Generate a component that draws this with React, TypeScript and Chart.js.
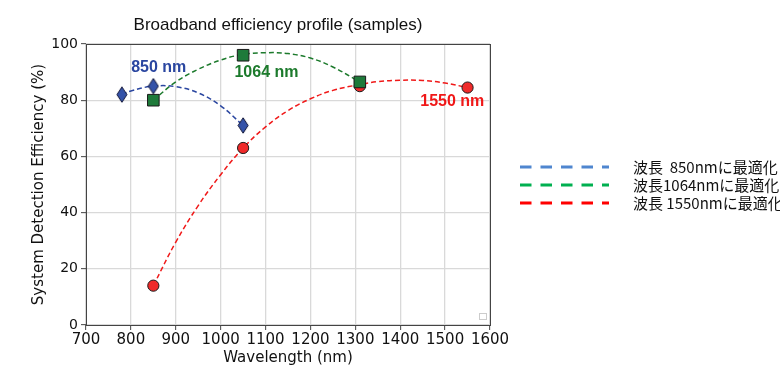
import React, { useEffect, useRef } from "react";
import { Chart, registerables } from "chart.js";

Chart.register(...registerables);

// Measured samples (markers)
const blueX = [780, 850, 1050];
const blueY = [82, 85, 71];
const greenX = [850, 1050, 1310];
const greenY = [80, 96, 86.5];
const redX = [850, 1050, 1310, 1550];
const redY = [14, 63, 85, 84.5];

// Dashed guide curves
const blueCurveX = [780, 800, 850, 900, 950, 1000, 1050];
const blueCurveY = [82, 83.3, 85, 84.8, 82.6, 78, 71];
const greenCurveX = [850, 900, 950, 1000, 1050, 1100, 1150, 1200, 1250, 1310];
const greenCurveY = [80, 86.5, 91, 94.3, 96.3, 96.9, 96.6, 95, 91.8, 86.5];
const redCurveX = [850, 900, 950, 1000, 1050, 1100, 1150, 1200, 1250, 1310, 1350, 1400, 1450, 1500, 1550];
const redCurveY = [14, 29.5, 42.5, 53.5, 63, 70.5, 76.3, 80.5, 83.5, 85.6, 86.6, 87.1, 87, 86.1, 84.5];

// Annotations
const annText = ["850 nm", "1064 nm", "1550 nm"];
const annX = [862, 1102, 1516];
const annY = [91.5, 89.7, 79.5];
const annColors = ["#2a46a0", "#1c7a2c", "#f01818"];

// Side legend
const legendLabels = ["波長  850nmに最適化", "波長1064nmに最適化", "波長 1550nmに最適化"];
const legendColors = ["#4f86cf", "#00b050", "#ff0000"];

const title = "Broadband efficiency profile (samples)";
const xTitle = "Wavelength (nm)";
const yTitle = "System Detection Efficiency (%)";

const pts = (xs: number[], ys: number[]) => xs.map((x, i) => ({ x, y: ys[i] }));

function makeDiamond(): HTMLCanvasElement {
  const c = document.createElement("canvas");
  c.width = 12;
  c.height = 17;
  const g = c.getContext("2d")!;
  g.beginPath();
  g.moveTo(6, 0.8);
  g.lineTo(11, 8.5);
  g.lineTo(6, 16.2);
  g.lineTo(1, 8.5);
  g.closePath();
  g.fillStyle = "#3452a8";
  g.fill();
  g.lineWidth = 1;
  g.strokeStyle = "#15193a";
  g.stroke();
  return c;
}

const overlay = {
  id: "overlay",
  afterDraw(chart: any) {
    const ctx = chart.ctx;
    const a = chart.chartArea;
    const xs = chart.scales.x;
    const ys = chart.scales.y;
    ctx.save();
    // frame
    ctx.strokeStyle = "#444";
    ctx.lineWidth = 1;
    ctx.strokeRect(Math.round(a.left) + 0.5, Math.round(a.top) + 0.5, Math.round(a.right - a.left), Math.round(a.bottom - a.top));
    // empty legend box
    ctx.strokeStyle = "#cccccc";
    ctx.strokeRect(a.right - 10.5, a.bottom - 11.5, 7, 6);
    // title
    ctx.fillStyle = "#111";
    ctx.font = "17px 'Liberation Sans'";
    ctx.textAlign = "center";
    ctx.textBaseline = "middle";
    ctx.fillText(title, 278, 25);
    // annotations
    ctx.font = "bold 16px 'Liberation Sans'";
    annText.forEach((t, i) => {
      ctx.fillStyle = annColors[i];
      ctx.fillText(t, xs.getPixelForValue(annX[i]), ys.getPixelForValue(annY[i]));
    });
    // side legend
    ctx.textAlign = "left";
    ctx.font = "15px 'Noto Sans CJK JP'";
    legendLabels.forEach((t, i) => {
      const y = 167 + i * 18;
      ctx.strokeStyle = legendColors[i];
      ctx.lineWidth = 3;
      ctx.setLineDash([11.5, 9]);
      ctx.beginPath();
      ctx.moveTo(520, y);
      ctx.lineTo(609, y);
      ctx.stroke();
      ctx.setLineDash([]);
      ctx.fillStyle = "#111";
      ctx.fillText(t, 633, y);
    });
    ctx.restore();
  },
};

export default function App() {
  const ref = useRef<HTMLCanvasElement>(null);
  useEffect(() => {
    const diamond = makeDiamond();
    const curve = (xs: number[], ys: number[], color: string) => ({
      type: "line" as const,
      data: pts(xs, ys),
      borderColor: color,
      borderWidth: 1.5,
      borderDash: [5, 3],
      pointRadius: 0,
      tension: 0.4,
      fill: false,
      order: 5,
    });
    const chart = new Chart(ref.current!, {
      type: "scatter",
      data: {
        datasets: [
          { ...curve(blueCurveX, blueCurveY, "#2a46a0") },
          { ...curve(greenCurveX, greenCurveY, "#1c7a2c") },
          { ...curve(redCurveX, redCurveY, "#f01818") },
          {
            data: pts(blueX, blueY),
            pointStyle: diamond as any,
            pointRadius: 8,
            order: 1,
          } as any,
          {
            data: pts(greenX, greenY),
            pointStyle: "rect",
            pointRadius: 8.2,
            backgroundColor: "#1e7a3a",
            borderColor: "#1a1a1a",
            borderWidth: 1,
            order: 2,
          },
          {
            data: pts(redX, redY),
            pointStyle: "circle",
            pointRadius: 5.6,
            backgroundColor: "#f02a2a",
            borderColor: "#1a1a1a",
            borderWidth: 1,
            order: 3,
          },
        ],
      },
      options: {
        animation: false,
        responsive: false,
        maintainAspectRatio: false,
        events: [],
        layout: { padding: { left: 26, right: 290, top: 44, bottom: 9 } },
        plugins: { legend: { display: false }, tooltip: { enabled: false }, title: { display: false } },
        scales: {
          x: {
            type: "linear",
            min: 700,
            max: 1600,
            afterFit: (s: any) => { s.height = 46; },
            ticks: {
              stepSize: 100,
              autoSkip: false,
              maxRotation: 0,
              color: "#111",
              font: { family: "DejaVu Sans", size: 15 },
              padding: 1,
              callback: (v: any) => String(v),
            },
            grid: { color: "#d9d9d9", lineWidth: 1.3, tickColor: "#444", tickLength: 5, tickWidth: 1 },
            border: { display: false },
            title: { display: true, text: xTitle, color: "#111", font: { family: "DejaVu Sans", size: 15 }, padding: { top: 0, bottom: 4 } },
          },
          y: {
            type: "linear",
            min: 0,
            max: 100,
            afterFit: (s: any) => { s.width = 60; },
            ticks: { stepSize: 20, autoSkip: false, color: "#111", font: { family: "DejaVu Sans", size: 14 }, padding: 3, callback: (v: any) => String(v) },
            grid: { color: "#d9d9d9", lineWidth: 1.3, tickColor: "#444", tickLength: 5, tickWidth: 1 },
            border: { display: false },
            title: { display: true, text: yTitle, color: "#111", font: { family: "DejaVu Sans", size: 15 }, padding: { top: 4, bottom: 0 } },
          },
        },
      },
      plugins: [overlay],
    } as any);
    return () => chart.destroy();
  }, []);
  return (
    <div style={{ position: "fixed", left: 0, top: 0, width: 780, height: 380, background: "#fff" }}>
      <canvas ref={ref} width={780} height={380} style={{ width: 780, height: 380, display: "block" }} />
    </div>
  );
}
